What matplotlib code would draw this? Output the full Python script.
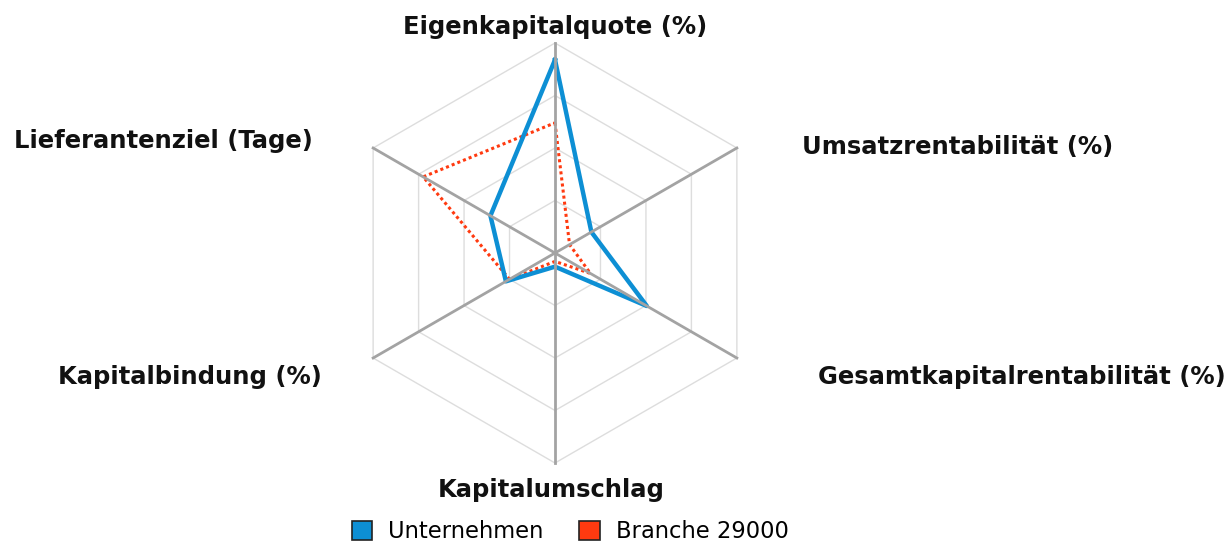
import numpy as np
import matplotlib
matplotlib.use('Agg')
import matplotlib.pyplot as plt
from matplotlib.patches import Patch

# radar axes, clockwise from top
categories = ['Eigenkapitalquote (%)', 'Umsatzrentabilität (%)', 'Gesamtkapitalrentabilität (%)',
	'Kapitalumschlag', 'Kapitalbindung (%)', 'Lieferantenziel (Tage)']
unternehmen = [0.92, 0.20, 0.505, 0.065, 0.27, 0.355]
branche = [0.62, 0.08, 0.195, 0.04, 0.25, 0.725]
series_names = ['Unternehmen', 'Branche 29000']

BLUE = '#0d8fd4'
RED = '#ff3a10'

angles = np.radians( [ 90, 30, -30, -90, -150, 150 ] )

def to_xy( values ):
	v = np.asarray( values )
	x = v * np.cos( angles )
	y = v * np.sin( angles )
	return np.append( x, x[ 0 ] ), np.append( y, y[ 0 ] )

fig = plt.figure( figsize=( 12.31, 5.43 ), dpi=100 )
ax = fig.add_axes( [ 0, 0, 1, 1 ] )
ax.set_xlim( -555 / 210, 676 / 210 )
ax.set_ylim( -290 / 210, 253 / 210 )
ax.set_aspect( 'equal' )
ax.axis( 'off' )

# hexagon rings
for r in [ 0.25, 0.5, 0.75, 1.0 ]:
	x, y = to_xy( [ r ] * 6 )
	ax.plot( x, y, color='#dddddd', lw=1.0, zorder=1 )

ax.plot( *to_xy( branche ), color=RED, lw=2.2, ls=( 0, ( 1, 1 ) ), zorder=2 )
ax.plot( *to_xy( unternehmen ), color=BLUE, lw=3.2, zorder=3 )

# spokes
for a in angles:
	ax.plot( [ 0, np.cos( a ) ], [ 0, np.sin( a ) ], color='#a3a3a3', lw=2.0, zorder=4 )

font = dict( family='DejaVu Sans', fontsize=17.5, fontweight='bold', color='#111111' )
label_pos = [
	( 0.0, 1.076, 'center' ),
	( 1.176, 0.505, 'left' ),
	( 1.252, -0.590, 'left' ),
	( -0.02, -1.129, 'center' ),
	( -1.110, -0.590, 'right' ),
	( -1.152, 0.533, 'right' ),
]
for name, ( x, y, ha ) in zip( categories, label_pos ):
	ax.text( x, y, name, ha=ha, va='center', **font )

handles = [ Patch( facecolor=BLUE, edgecolor='#222222', lw=1.2 ),
	Patch( facecolor=RED, edgecolor='#222222', lw=1.2 ) ]
fig.legend( handles, series_names, loc='center', bbox_to_anchor=( 570 / 1231, 11 / 543 ),
	ncol=2, frameon=False, prop=dict( family='DejaVu Sans', size=16.3 ),
	handlelength=0.9, handleheight=0.9, handletextpad=0.7, columnspacing=1.6 )

fig.savefig( 'out.png', dpi=100 )
